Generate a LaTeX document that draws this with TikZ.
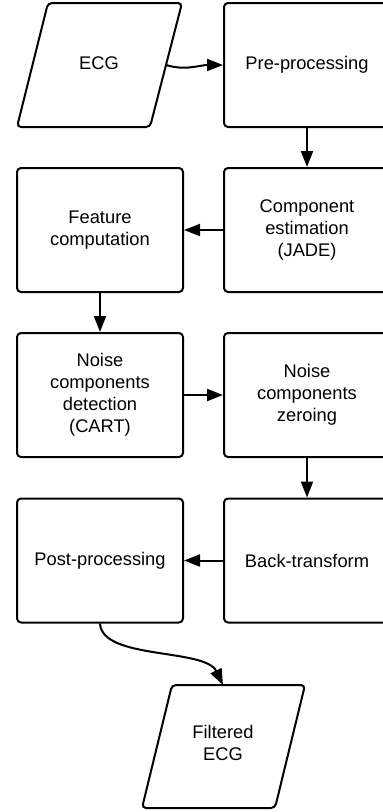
\documentclass[tikz,border=0pt]{standalone}
\usepackage{fontspec}
\setmainfont{Liberation Sans}
\usetikzlibrary{arrows.meta}
\begin{document}
\begin{tikzpicture}[x=1pt,y=-1pt,
  txt/.style={align=center,font=\fontsize{18.3}{22}\selectfont,inner sep=0pt},
  box/.style={txt,draw,line width=2pt,rounded corners=4pt,minimum width=166pt,minimum height=124pt},
  para/.style={line width=2pt,rounded corners=4pt},
  arr/.style={line width=2pt,-{Triangle[length=16pt,width=12pt]}}]
\useasboundingbox (0,0) rectangle (383,812);
\clip (0,0) rectangle (383,812);
% input / output parallelograms
\draw[para] (48,3) -- (182,3) -- (150,127) -- (17,127) -- cycle;
\node[txt] (ecg) at (99,63) {ECG};
\coordinate (ecgR) at (166,65);
\draw[para] (172,685) -- (305,685) -- (275,808) -- (142,808) -- cycle;
\node[txt] (fil) at (223,743) {Filtered\\ECG};
\coordinate (filT) at (223,685);
% process boxes
\node[box] (pre) at (307,65) {Pre-processing};
\node[box] (ce) at (307,230) {Component\\estimation\\(JADE)};
\node[box] (fc) at (100,230) {Feature\\computation};
\node[box] (nd) at (100,395) {Noise\\components\\detection\\(CART)};
\node[box] (nz) at (307,395) {Noise\\components\\zeroing};
\node[box] (bt) at (307,560.5) {Back-transform};
\node[box] (pp) at (100,560.5) {Post-processing};
% connectors
\draw[arr] (ecgR) .. controls (185,71) and (200,65) .. (pre.west);
\draw[arr] (pre.south) -- (ce.north);
\draw[arr] (ce.west) -- (fc.east);
\draw[arr] (fc.south) -- (nd.north);
\draw[arr] (nd.east) -- (nz.west);
\draw[arr] (nz.south) -- (bt.north);
\draw[arr] (bt.west) -- (pp.east);
\draw[arr] (pp.south) .. controls (102,660) and (205,648) .. (filT);
\end{tikzpicture}
\end{document}
